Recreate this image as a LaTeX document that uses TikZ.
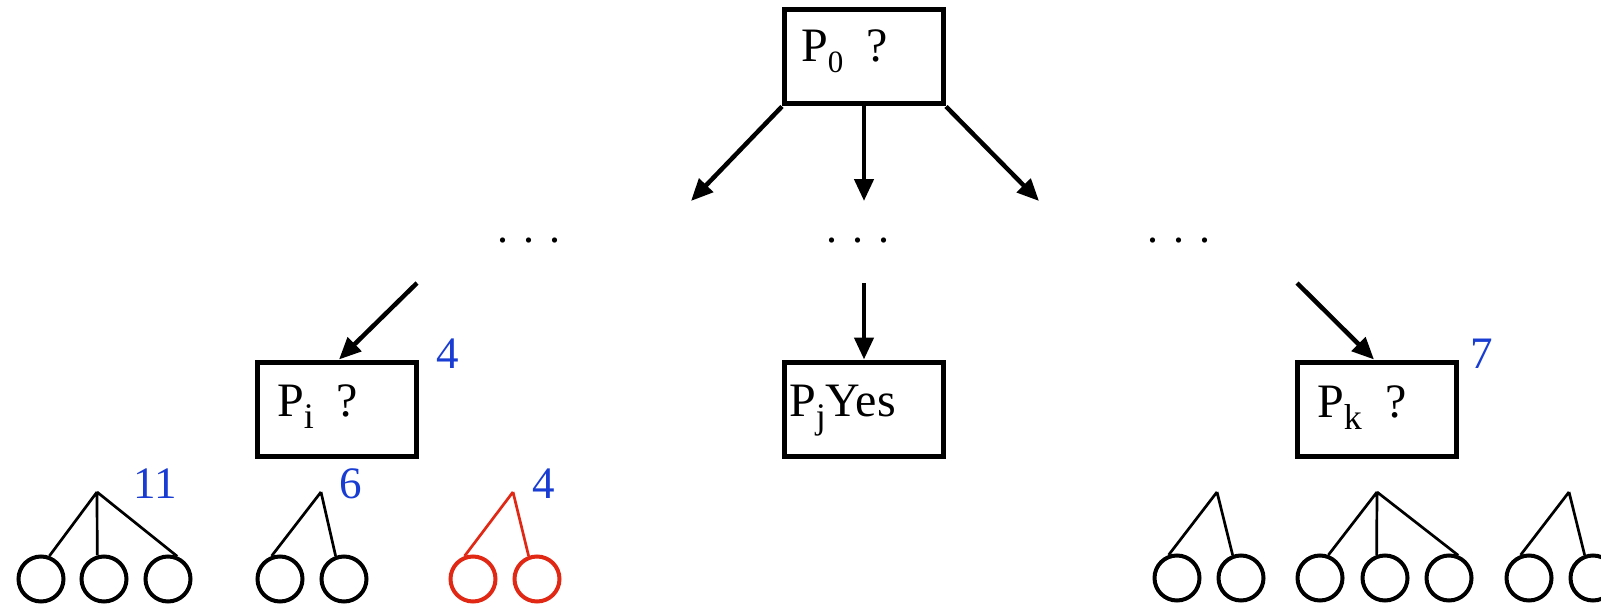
\documentclass[tikz,border=0pt]{standalone}
\usepackage{fontspec}
\setmainfont{Liberation Serif}
\usetikzlibrary{arrows.meta}
\definecolor{lblblue}{RGB}{25,60,210}
\definecolor{lblred}{RGB}{225,40,20}
\newcommand{\sbs}[1]{\raisebox{-12pt}{\fontsize{36}{36}\selectfont #1}}
\newcommand{\sbd}[1]{\raisebox{-11pt}{\fontsize{31}{31}\selectfont #1}}
\begin{document}
\begin{tikzpicture}[x=1pt,y=-1pt,
  box/.style={draw, line width=5pt, minimum width=159pt, minimum height=94pt, inner sep=0pt},
  lbl/.style={font=\fontsize{48}{48}\selectfont, inner sep=0pt, anchor=base west},
  num/.style={font=\fontsize{45}{45}\selectfont, text=lblblue, inner sep=0pt, anchor=base},
  arr/.style={line width=4.5pt, -{Triangle[length=22pt,width=19pt]}},
  leaf/.style={draw, circle, line width=4pt, minimum size=45pt, inner sep=0pt},
  edge/.style={line width=2.7pt},
  dotrow/.style={font=\fontsize{44}{44}\selectfont, inner sep=0pt, anchor=base}
]
\useasboundingbox (0,0) rectangle (1601,607);
% boxes
\node[box] (P0) at (864,57) {};
\node[box] (Pi) at (337,409) {};
\node[box] (Pj) at (864,409) {};
\node[box] (Pk) at (1377,409) {};
\node[lbl] (t0) at (801,62) {P\sbd{0}\hspace{23pt}?};
\node[lbl] (ti) at (277,416) {P\sbs{i}\hspace{23pt}?};
\node[lbl] (tj) at (789,416) {P\sbs{j}Yes};
\node[lbl] (tk) at (1317,417) {P\sbs{k}\hspace{24pt}?};
% dots
\node[dotrow] (d1) at (529,242) {.\hspace{15pt}.\hspace{15pt}.};
\node[dotrow] (d2) at (858,242) {.\hspace{15pt}.\hspace{15pt}.};
\node[dotrow] (d3) at (1179,242) {.\hspace{15pt}.\hspace{15pt}.};
% arrows
\coordinate (e1) at (691,201);
\coordinate (e2) at (864,201);
\coordinate (e3) at (1039,201);
\draw[arr] (P0.south west) -- (e1);
\draw[arr] (P0.south) -- (e2);
\draw[arr] (P0.south east) -- (e3);
\coordinate (s1) at (417,283);
\coordinate (s2) at (864,283);
\coordinate (s3) at (1297,283);
\draw[arr] (s1) -- ([xshift=2pt]Pi.north);
\draw[arr] (s2) -- (Pj.north);
\draw[arr] (s3) -- ([xshift=-3pt]Pk.north);
% numbers
\node[num] (n1) at (448,368) {4};
\node[num] (n2) at (1482,368) {7};
\node[num] (n3) at (155,498) {11};
\node[num] (n4) at (351,498) {6};
\node[num] (n5) at (544,498) {4};
% tree 1
\coordinate (r1) at (97,492);
\node[leaf] (a1) at (41,579) {};
\node[leaf] (a2) at (104,579) {};
\node[leaf] (a3) at (168,579) {};
\draw[edge] (r1) -- (a1.70) (r1) -- (a2.106) (r1) -- (a3.68);
% tree 2
\coordinate (r2) at (321,492);
\node[leaf] (b1) at (280,579) {};
\node[leaf] (b2) at (344,579) {};
\draw[edge] (r2) -- (b1.110) (r2) -- (b2.110);
% tree 3 (red)
\coordinate (r3) at (513,492);
\node[leaf, draw=lblred] (c1) at (473,579) {};
\node[leaf, draw=lblred] (c2) at (537,579) {};
\draw[edge, lblred] (r3) -- (c1.110) (r3) -- (c2.110);
% tree 4
\coordinate (r4) at (1217,492);
\node[leaf] (f1) at (1177,578) {};
\node[leaf] (f2) at (1241,578) {};
\draw[edge] (r4) -- (f1.110) (r4) -- (f2.110);
% tree 5
\coordinate (r5) at (1377,492);
\node[leaf] (g1) at (1320,578) {};
\node[leaf] (g2) at (1385,578) {};
\node[leaf] (g3) at (1449,578) {};
\draw[edge] (r5) -- (g1.70) (r5) -- (g2.110) (r5) -- (g3.68);
% tree 6
\coordinate (r6) at (1569,492);
\node[leaf] (h1) at (1529,578) {};
\node[leaf] (h2) at (1593,578) {};
\draw[edge] (r6) -- (h1.110) (r6) -- (h2.110);
\end{tikzpicture}
\end{document}
